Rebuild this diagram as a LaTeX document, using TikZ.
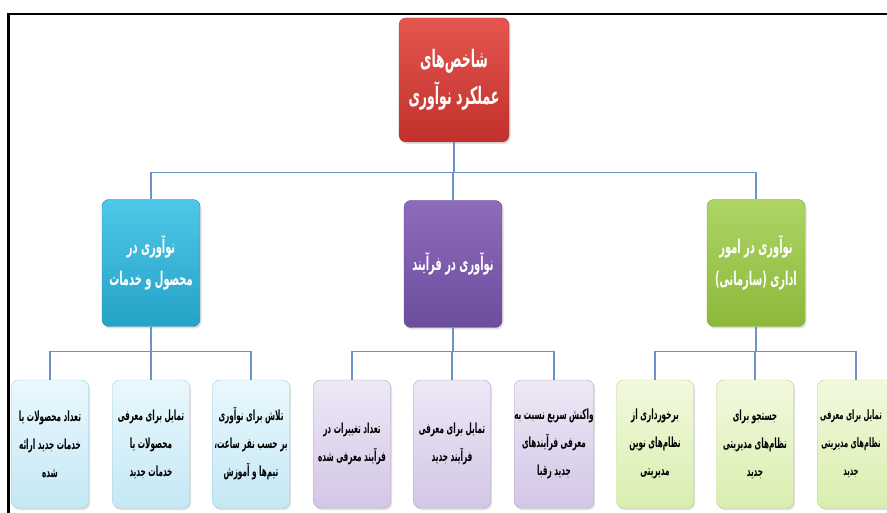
\documentclass[tikz,border=0pt]{standalone}
\usepackage{fontspec}
\usetikzlibrary{shadows}
\TeXXeTstate=1
\newfontfamily\arfont[Script=Arabic,FakeStretch=0.52]{DejaVu Sans}
\newcommand{\rl}[1]{\beginR #1\endR}
\definecolor{conn}{HTML}{6A94C8}
\definecolor{redT}{HTML}{E4564F}\definecolor{redB}{HTML}{C2302B}
\definecolor{cyaT}{HTML}{4FC7E8}\definecolor{cyaB}{HTML}{25A2C7}
\definecolor{purT}{HTML}{8C6CBB}\definecolor{purB}{HTML}{6C4C9C}
\definecolor{grnT}{HTML}{AED466}\definecolor{grnB}{HTML}{8CB83A}
\definecolor{lcyT}{HTML}{EAF8FD}\definecolor{lcyB}{HTML}{C4E8F5}\definecolor{lcyD}{HTML}{9CCFE3}
\definecolor{lpuT}{HTML}{EEE8F6}\definecolor{lpuB}{HTML}{D3C6E6}\definecolor{lpuD}{HTML}{B2A1CE}
\definecolor{lgrT}{HTML}{F2F9DE}\definecolor{lgrB}{HTML}{DAEEAE}\definecolor{lgrD}{HTML}{B4D47E}
\tikzset{
  box/.style={rounded corners=7pt, align=center, inner sep=0pt,
    drop shadow={shadow xshift=1.5pt, shadow yshift=-2pt, opacity=0.25}},
  topbox/.style={box, minimum width=110pt, minimum height=124pt, top color=redT, bottom color=redB,
    draw=redB!80!black!90, text=white, font=\arfont\bfseries\fontsize{24}{37}\selectfont},
  midbox/.style={box, minimum width=98pt, minimum height=127pt, text=white,
    font=\arfont\bfseries\fontsize{19}{32}\selectfont},
  leafbox/.style={box, minimum width=77pt, minimum height=128pt, text=black,
    font=\arfont\bfseries\fontsize{14}{28}\selectfont},
  leaftext/.style={align=center, inner sep=0pt, text=black,
    font=\arfont\bfseries\fontsize{13}{28}\selectfont},
  cyanbox/.style={midbox, top color=cyaT, bottom color=cyaB, draw=cyaB!90!black},
  purpbox/.style={midbox, top color=purT, bottom color=purB, draw=purB!90!black},
  greenbox/.style={midbox, top color=grnT, bottom color=grnB, draw=grnB!90!black},
  lcyan/.style={leafbox, top color=lcyT, bottom color=lcyB, draw=lcyD},
  lpurp/.style={leafbox, top color=lpuT, bottom color=lpuB, draw=lpuD},
  lgreen/.style={leafbox, top color=lgrT, bottom color=lgrB, draw=lgrD},
  conline/.style={draw=conn, line width=1.2pt},
  frame/.style={draw=black, line width=2.2pt}
}
\begin{document}
\begin{tikzpicture}[x=1pt,y=-1pt]
\useasboundingbox (0,0) rectangle (887,513);
\fill[white] (0,0) rectangle (887,513);
\draw[frame] (8.5,513) -- (8.5,14) -- (887,14);

\node[topbox] (top) at (454,80) {\rl{شاخص‌های}\\\rl{عملکرد نوآوری}};

\node[cyanbox] (c) at (151,263) {\rl{نوآوری در}\\\rl{محصول و خدمات}};
\node[purpbox] (p) at (453,264) {\rl{نوآوری در فرآیند}};
\node[greenbox] (g) at (756,263) {\rl{نوآوری در امور}\\\rl{اداری (سازمانی)}};

\node[lcyan] (c1) at (50,444) {\rl{تعداد محصولات یا}\\\rl{خدمات جدید ارائه}\\\rl{شده}};
\node[lcyan] (c2) at (151,444) {\rl{تمایل برای معرفی}\\\rl{محصولات یا}\\\rl{خدمات جدید}};
\node[lcyan] (c3) at (251,444) {\rl{تلاش برای نوآوری}\\\rl{بر حسب نفر ساعت،}\\\rl{تیم‌ها و آموزش}};

\node[lpurp] (p1) at (352,444) {\rl{تعداد تغییرات در}\\\rl{فرآیند معرفی شده}};
\node[lpurp] (p2) at (452,444) {\rl{تمایل برای معرفی}\\\rl{فرآیند جدید}};
\node[lpurp] (p3) at (554,444) {\rl{واکنش سریع نسبت به}\\\rl{معرفی فرآیندهای}\\\rl{جدید رقبا}};

\node[lgreen] (g1) at (655,444) {\rl{برخورداری از}\\\rl{نظام‌های نوین}\\\rl{مدیریتی}};
\node[lgreen] (g2) at (755,444) {\rl{جستجو برای}\\\rl{نظام‌های مدیریتی}\\\rl{جدید}};
\begin{scope}
\clip (0,0) rectangle (887,513);
\node[lgreen] (g3) at (856,444) {};
\end{scope}
\node[leaftext] (g3t) at (851,444) {\rl{تمایل برای معرفی}\\\rl{نظام‌های مدیریتی}\\\rl{جدید}};

\foreach \ch in {c,p,g}{\draw[conline] (top.south) -- ++(0,30) -| (\ch.north);}
\foreach \ch in {c1,c2,c3}{\draw[conline] (c.south) -- ++(0,25) -| (\ch.north);}
\foreach \ch in {p1,p2,p3}{\draw[conline] (p.south) -- ++(0,24) -| (\ch.north);}
\foreach \ch in {g1,g2,g3}{\draw[conline] (g.south) -- ++(0,25) -| (\ch.north);}
\end{tikzpicture}
\end{document}
